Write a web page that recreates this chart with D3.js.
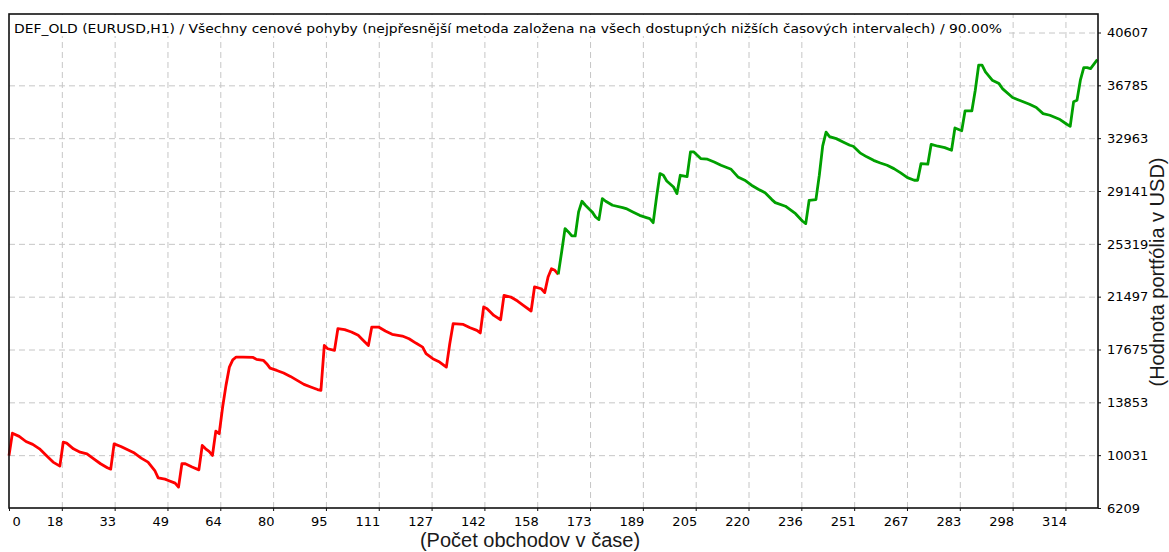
<!DOCTYPE html>
<html>
<head>
<meta charset="utf-8">
<script src="https://cdn.jsdelivr.net/npm/d3@7"></script>
<style>
body { margin: 0; background: #fff; }
svg { display: block; }
text { font-family: "DejaVu Sans", Verdana, sans-serif; }
</style>
</head>
<body>
<svg id="svg" width="1169" height="552"></svg>
<script>
// trade number / account balance
const trades = [0, 1, 3, 5, 7, 9, 11, 13, 15, 16, 17, 19, 21, 23, 25, 27, 29, 30, 31, 33, 35, 37, 39, 41, 43, 44, 46, 47, 49, 50,
  51, 52, 54, 56, 57, 58, 59, 60, 61, 62, 63, 64, 65, 66, 67, 69, 72, 73, 75, 76, 77, 79, 81, 83, 85, 87, 89, 91, 92, 93,
  94, 96, 97, 99, 101, 103, 104, 106, 107, 109, 111, 113, 116, 118, 120, 122, 123, 125, 127, 129, 130, 131, 134, 136, 138, 139, 140, 141, 143, 145,
  146, 148, 150, 152, 154, 155, 157, 158, 159, 160, 161, 162,
  163, 164, 165, 166, 167, 168, 169, 170, 172, 173, 174, 175, 176, 178, 181, 182, 184, 186, 188, 189, 190, 191, 192, 193, 194, 196, 197, 198, 200, 201,
  202, 204, 206, 208, 210, 213, 215, 217, 219, 221, 223, 225, 226, 229, 232, 234, 235, 236, 238, 239, 240, 241, 242, 244, 246, 248, 249, 251, 253, 255,
  257, 259, 261, 263, 265, 267, 268, 269, 271, 272, 274, 276, 278, 279, 281, 282, 284, 285, 286, 287, 288, 290, 292, 293, 296, 298, 301, 303, 305, 307,
  310, 312, 313, 314, 315, 316, 317, 318, 319, 321];
const balance = [10000, 11620, 11390, 11020, 10810, 10490, 10010, 9530, 9240, 10970, 10900, 10490, 10250, 10130, 9770, 9410, 9120, 9020, 10850, 10660, 10420, 10180, 9820, 9530, 8920, 8390, 8300, 8200, 8010, 7720,
  9410, 9410, 9170, 8970, 10730, 10490, 10300, 10010, 11770, 11580, 13500, 15080, 16400, 16930, 17130, 17130, 17100, 16960, 16890, 16650, 16330, 16160, 15970, 15730, 15440, 15150, 14960, 14780, 14720, 17970,
  17730, 17610, 19180, 19110, 18940, 18700, 18450, 17970, 19300, 19300, 19010, 18770, 18650, 18450, 18140, 17850, 17370, 17010, 16770, 16400, 18090, 19540, 19490, 19250, 19060, 18870, 20750, 20630, 20140, 19830,
  21590, 21470, 21180, 20820, 20460, 22200, 22070, 21790, 22920, 23520, 23400, 23110,
  24730, 26420, 26180, 25890, 25890, 27630, 28400, 28110, 27630, 27260, 27070, 28590, 28400, 28110, 27940, 27870, 27630, 27380, 27220, 27140, 26850, 28710, 30400, 30280, 29870, 29430, 28950, 30280, 30180, 31970,
  31970, 31490, 31440, 31240, 31000, 30710, 30160, 29920, 29560, 29270, 29020, 28520, 28300, 28040, 27500, 26970, 26780, 28470, 28520, 30280, 32400, 33400, 33080, 32930, 32690, 32450, 32380, 31900, 31610, 31360,
  31170, 31000, 30760, 30450, 30110, 29920, 29920, 31120, 31080, 32520, 32380, 32280, 32090, 33700, 33500, 34940, 34940, 36430, 38240, 38240, 37760, 37160, 36910, 36550, 35900, 35710, 35420, 35180, 34740, 34620,
  34310, 33970, 33830, 35590, 35710, 37160, 38070, 38070, 38000, 38650];

const yTicks = [6209, 10031, 13853, 17675, 21497, 25319, 29141, 32963, 36785, 40607];
const xTickLabels = ['0', '18', '33', '49', '64', '80', '95', '111', '127', '142', '158', '173', '189', '205', '220', '236', '251', '267', '283', '298', '314'];
const splitTrade = 162;  // red before, green after
const lastTrade = 321.2;
const tradesPerGrid = 15.58;

const title = 'DEF_OLD (EURUSD,H1) / Všechny cenové pohyby (nejpřesnější metoda založena na všech dostupných nižších časových intervalech) / 90.00%';
const xTitle = '(Počet obchodov v čase)';
const yTitle = '(Hodnota portfólia v USD)';

const plotLeft = 9, plotTop = 14, plotRight = 1098, plotBottom = 508;

var svg = d3.select('#svg');

const xScale = d3.scaleLinear().domain([0, lastTrade]).range([plotLeft, plotRight]);
const yScale = d3.scaleLinear().domain([6209, 40607]).range([plotBottom, 32.5]);

const xTickPos = xTickLabels.map((d, i) => i * tradesPerGrid);

// grid
svg.append('g')
  .attr('class', 'grid')
  .attr('transform', 'translate(0,' + plotBottom + ')')
  .call(d3.axisBottom(xScale).tickValues(xTickPos.slice(1)).tickSize(-(plotBottom - plotTop)).tickFormat(''))
  .call(g => g.select('.domain').remove());

svg.append('g')
  .attr('class', 'grid')
  .attr('transform', 'translate(' + plotLeft + ',0)')
  .call(d3.axisRight(yScale).tickValues(yTicks.slice(1)).tickSize(plotRight - plotLeft).tickFormat(''))
  .call(g => g.select('.domain').remove());

svg.selectAll('.grid line')
  .attr('stroke', '#c6c6c6')
  .attr('stroke-width', 1)
  .attr('stroke-dasharray', '6,4');

// title with white box behind it
const titleBox = svg.append('rect').attr('fill', '#fff');
const titleText = svg.append('text')
  .attr('x', 14)
  .attr('y', 33)
  .style('font-size', '13px')
  .attr('fill', '#000')
  .text(title);
titleText.attr('textLength', 988).attr('lengthAdjust', 'spacingAndGlyphs');
titleBox.attr('x', plotLeft + 1).attr('y', plotTop + 1).attr('width', 14 + 988 + 3 - plotLeft).attr('height', 21);

// equity line
const pts = trades.map((t, i) => ({ t: t, v: balance[i] }));
const line = d3.line().x(d => xScale(d.t)).y(d => yScale(d.v));

svg.append('path')
  .datum(pts.filter(d => d.t <= splitTrade))
  .attr('fill', 'none')
  .attr('stroke', '#ff0000')
  .attr('stroke-width', 2.8)
  .attr('stroke-linejoin', 'round')
  .attr('d', line);

svg.append('path')
  .datum(pts.filter(d => d.t >= splitTrade))
  .attr('fill', 'none')
  .attr('stroke', '#00a000')
  .attr('stroke-width', 2.8)
  .attr('stroke-linejoin', 'round')
  .attr('d', line);

// frame
svg.append('rect')
  .attr('x', plotLeft)
  .attr('y', plotTop)
  .attr('width', plotRight - plotLeft)
  .attr('height', plotBottom - plotTop)
  .attr('fill', 'none')
  .attr('stroke', '#111')
  .attr('stroke-width', 1.6);

// x axis
const xAxis = svg.append('g')
  .attr('transform', 'translate(0,' + plotBottom + ')')
  .call(d3.axisBottom(xScale).tickValues(xTickPos).tickSize(3).tickPadding(6)
    .tickFormat((d, i) => xTickLabels[i]));
xAxis.select('.domain').remove();
xAxis.selectAll('line').attr('stroke', '#111');
xAxis.selectAll('text')
  .style('font-size', '13px')
  .attr('fill', '#000')
  .attr('text-anchor', 'end')
  .attr('x', 1);
xAxis.select('.tick text').attr('text-anchor', 'start').attr('x', 3);

// y axis on the right
const yAxis = svg.append('g')
  .attr('transform', 'translate(' + plotRight + ',0)')
  .call(d3.axisRight(yScale).tickValues(yTicks).tickSize(3).tickPadding(6).tickFormat(d3.format('d')));
yAxis.select('.domain').remove();
yAxis.selectAll('line').attr('stroke', '#111');
yAxis.selectAll('text')
  .style('font-size', '13px')
  .attr('fill', '#000');

// axis titles
svg.append('text')
  .attr('x', 530)
  .attr('y', 547)
  .attr('text-anchor', 'middle')
  .style('font-family', '"Liberation Sans", Arial, sans-serif')
  .style('font-size', '20px')
  .attr('fill', '#1a1a1a')
  .text(xTitle);

svg.append('text')
  .attr('transform', 'translate(1164,272) rotate(-90)')
  .attr('text-anchor', 'middle')
  .style('font-family', '"Liberation Sans", Arial, sans-serif')
  .style('font-size', '20px')
  .attr('fill', '#1a1a1a')
  .text(yTitle);
</script>
</body>
</html>
